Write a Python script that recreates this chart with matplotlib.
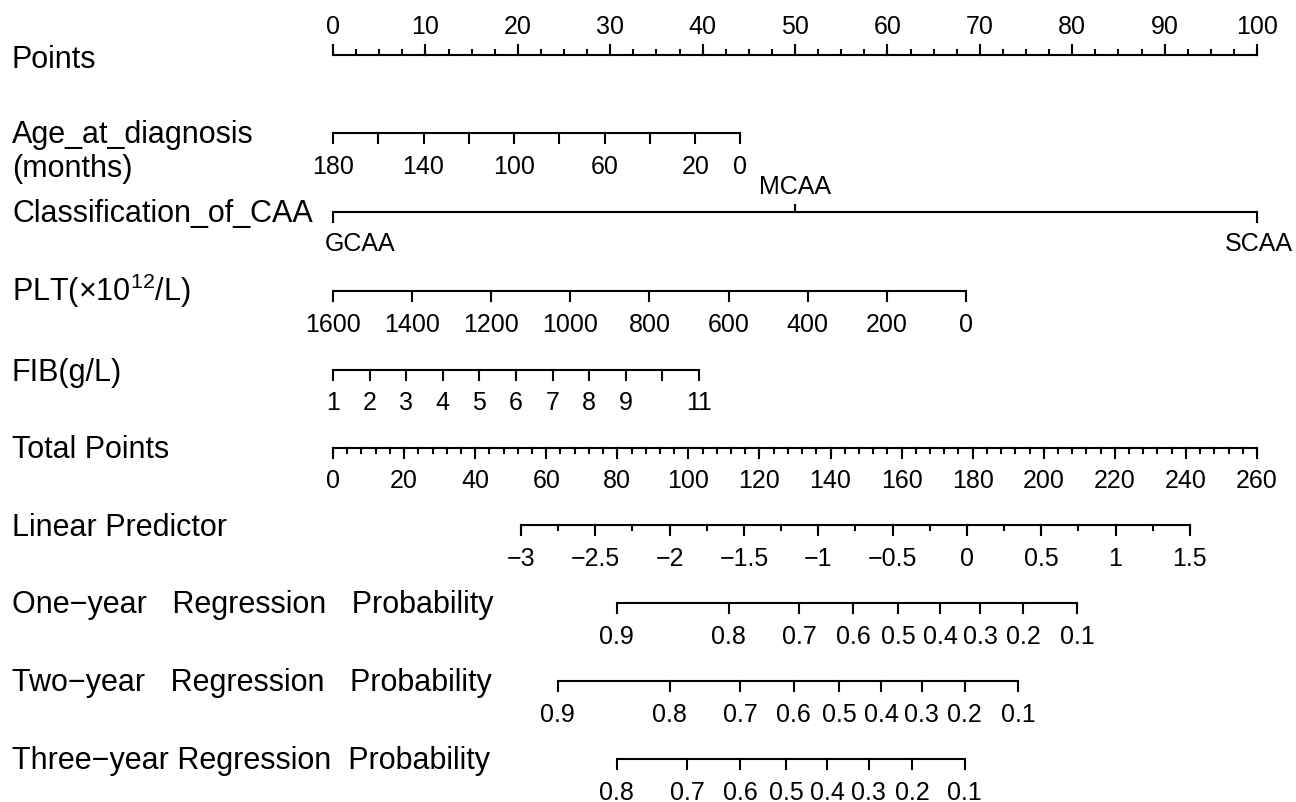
"""
Nomogram for regression probability of CAA (one-, two- and three-year).
Writes out.png
"""
import numpy as np
import matplotlib
matplotlib.use('Agg')
import matplotlib.pyplot as plt
from matplotlib.transforms import blended_transform_factory

plt.rcParams['font.family'] = ['Liberation Sans', 'DejaVu Sans']
plt.rcParams['mathtext.fontset'] = 'custom'
plt.rcParams['mathtext.rm'] = 'Liberation Sans'

MINUS = '\u2212'

# ---- data (points scale 0-100, total points scale 0-260) ----
points_major = list(range(0, 101, 10))

age_ticks = [180, 160, 140, 120, 100, 80, 60, 40, 20, 0]
age_labels = ['180', '', '140', '', '100', '', '60', '', '20', '0']
age_span = (180, 0)          # value at 0 points, value at max points
age_max_points = 44.1

class_names = ['GCAA', 'MCAA', 'SCAA']
class_points = [0.0, 50.0, 100.0]

plt_ticks = [1600, 1400, 1200, 1000, 800, 600, 400, 200, 0]
plt_span = (1600, 0)
plt_max_points = 68.5

fib_ticks = [1, 2, 3, 4, 5, 6, 7, 8, 9, 10, 11]
fib_labels = ['1', '2', '3', '4', '5', '6', '7', '8', '9', '', '11']
fib_span = (1, 11)
fib_max_points = 39.6

total_major = list(range(0, 261, 20))
total_max = 260

lp_labels = [-3, -2.5, -2, -1.5, -1, -0.5, 0, 0.5, 1, 1.5]
lp_span = (-3, 1.5)
lp_total = (52.9, 241.1)     # total points at lp = -3 and lp = 1.5

prob1_labels = ['0.9', '0.8', '0.7', '0.6', '0.5', '0.4', '0.3', '0.2', '0.1']
prob1_total = [79.8, 111.4, 131.1, 146.3, 159.0, 170.8, 182.1, 194.2, 209.4]
prob2_labels = ['0.9', '0.8', '0.7', '0.6', '0.5', '0.4', '0.3', '0.2', '0.1']
prob2_total = [63.2, 94.8, 114.5, 129.6, 142.4, 154.2, 165.7, 177.8, 192.8]
prob3_labels = ['0.8', '0.7', '0.6', '0.5', '0.4', '0.3', '0.2', '0.1']
prob3_total = [79.8, 99.6, 114.5, 127.5, 139.0, 150.7, 162.9, 177.8]

# ---- layout (pixels) ----
W, H = 1296, 802
X0, PX_PER_PT = 333, 9.24
ROW_Y = dict(points=55, age=133, cls=212, plt=291, fib=370,
             total=448, lp=525, p1=603, p2=681, p3=759)
TICK_FS = 18
VAR_FS = 22
LW = 1.5


def lin(vals, v0, v1, p0, p1):
    vals = np.asarray(vals, dtype=float)
    return p0 + (vals - v0) * (p1 - p0) / (v1 - v0)


def tot2pts(t):
    return np.asarray(t, dtype=float) * 100.0 / total_max


fig = plt.figure(figsize=(W / 100, H / 100), dpi=100)
ax = fig.add_axes([0, 0, 1, 1])
ax.set_xlim(-X0 / PX_PER_PT, (W - X0) / PX_PER_PT)
ax.set_ylim(H, 0)
ax.axis('off')
lab_tr = blended_transform_factory(ax.transAxes, ax.transData)
LAB_X = 12 / W


def axis_row(y, pos, labels, minor=None, up=False, major_len=10, minor_len=5):
    pos = np.asarray(pos, dtype=float)
    ax.plot([pos.min(), pos.max()], [y, y], color='black', lw=LW,
            solid_capstyle='butt')
    d = -1 if up else 1
    for p in pos:
        ax.plot([p, p], [y, y + d * major_len], color='black', lw=LW)
    if minor is not None:
        for p in minor:
            ax.plot([p, p], [y, y + d * minor_len], color='black', lw=LW)
    base = y - 30 + 9 if up else y + 40.5
    for p, s in zip(pos, labels):
        if s:
            ax.text(p, base, s, ha='center', va='baseline', fontsize=TICK_FS)


def var_label(y, s):
    ax.text(LAB_X, y + 10.5, s, transform=lab_tr, ha='left', va='baseline',
            fontsize=VAR_FS)


# Points
axis_row(ROW_Y['points'], points_major, [str(v) for v in points_major],
         minor=np.arange(0, 100.1, 2.5), up=True)
var_label(ROW_Y['points'] + 2, 'Points')

# Age
axis_row(ROW_Y['age'], lin(age_ticks, *age_span, 0, age_max_points), age_labels)
ax.text(LAB_X, 142.5, 'Age_at_diagnosis', transform=lab_tr, ha='left',
        va='baseline', fontsize=VAR_FS)
ax.text(LAB_X, 176.5, '(months)', transform=lab_tr, ha='left',
        va='baseline', fontsize=VAR_FS)

# Classification
y = ROW_Y['cls']
ax.plot([min(class_points), max(class_points)], [y, y], color='black', lw=LW)
for name, p in zip(class_names, class_points):
    if name == 'MCAA':
        ax.plot([p, p], [y, y - 7], color='black', lw=LW)
        ax.text(p, y - 27 + 9, name, ha='center', va='baseline', fontsize=TICK_FS)
    elif name == 'GCAA':
        ax.plot([p, p], [y, y + 10], color='black', lw=LW)
        ax.text(p - 0.9, y + 30 + 9, name, ha='left', va='baseline', fontsize=TICK_FS)
    else:
        ax.plot([p, p], [y, y + 10], color='black', lw=LW)
        ax.text(p + 0.2, y + 30 + 9, name, ha='center', va='baseline', fontsize=TICK_FS)
var_label(y, 'Classification_of_CAA')

# PLT
axis_row(ROW_Y['plt'], lin(plt_ticks, *plt_span, 0, plt_max_points),
         [str(v) for v in plt_ticks])
var_label(ROW_Y['plt'], r'PLT(×10$^{\mathrm{12}}$/L)')

# FIB
axis_row(ROW_Y['fib'], lin(fib_ticks, *fib_span, 0, fib_max_points), fib_labels)
var_label(ROW_Y['fib'], 'FIB(g/L)')

# Total points
axis_row(ROW_Y['total'], tot2pts(total_major), [str(v) for v in total_major],
         minor=tot2pts(np.arange(0, total_max + 0.1, 4)))
var_label(ROW_Y['total'], 'Total Points')

# Linear predictor
lp_pos = tot2pts(lin(lp_labels, *lp_span, *lp_total))
lp_minor = tot2pts(lin(np.arange(-3, 1.51, 0.25), *lp_span, *lp_total))
axis_row(ROW_Y['lp'], lp_pos,
         [('%g' % v).replace('-', MINUS) for v in lp_labels], minor=lp_minor)
var_label(ROW_Y['lp'], 'Linear Predictor')

# Probabilities
axis_row(ROW_Y['p1'], tot2pts(prob1_total), prob1_labels)
var_label(ROW_Y['p1'], 'One' + MINUS + 'year   Regression   Probability')
axis_row(ROW_Y['p2'], tot2pts(prob2_total), prob2_labels)
var_label(ROW_Y['p2'], 'Two' + MINUS + 'year   Regression   Probability')
axis_row(ROW_Y['p3'], tot2pts(prob3_total), prob3_labels)
var_label(ROW_Y['p3'], 'Three' + MINUS + 'year Regression  Probability')

fig.savefig('out.png', dpi=100)
print('Wrote out.png')
